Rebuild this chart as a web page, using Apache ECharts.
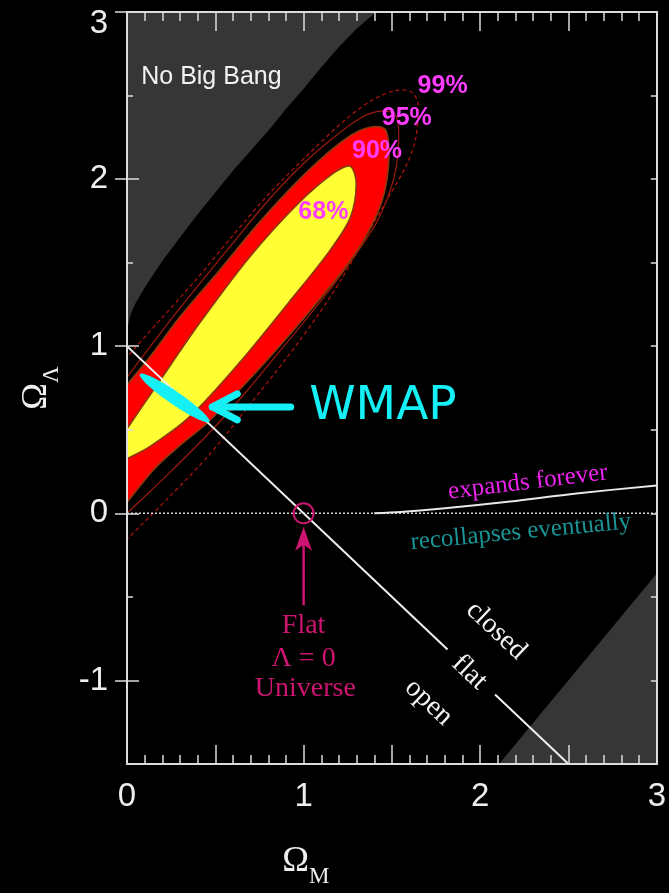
<!DOCTYPE html>
<html>
<head>
<meta charset="utf-8">
<script src="https://cdn.jsdelivr.net/npm/echarts@6/dist/echarts.min.js"></script>
<style>
  html, body { margin: 0; padding: 0; background: #000; }
  #chart { width: 669px; height: 893px; }
</style>
</head>
<body>
<div id="chart"></div>
<script>
// ---- axis ticks ----
const xTicks = [0, 1, 2, 3];
const yTicks = [-1, 0, 1, 2, 3];

// ---- regions of the (Omega_M, Omega_Lambda) plane ----
const noBigBangEdge = [[0, 1.0], [0.005, 1.12], [0.02, 1.19], [0.05, 1.26], [0.1, 1.35], [0.15, 1.43],
  [0.2, 1.51], [0.3, 1.65], [0.4, 1.79], [0.5, 1.92], [0.6, 2.05], [0.7, 2.17], [0.8, 2.29],
  [0.9, 2.42], [1.0, 2.54], [1.1, 2.67], [1.2, 2.79], [1.3, 2.9], [1.41, 3.0]];
const lowerRightShade = [[2.107, -1.5], [3.0, -0.36], [3.0, -1.5]];

// ---- supernova confidence contours ----
const contour68 = [[-0.067, 0.399], [0, 0.506], [0.185, 0.792], [0.410, 1.137], [0.691, 1.530],
  [0.972, 1.857], [1.169, 2.036], [1.264, 2.077], [1.298, 1.976], [1.264, 1.768], [1.140, 1.560],
  [0.916, 1.262], [0.635, 0.899], [0.354, 0.577], [0.129, 0.399], [0, 0.327], [-0.067, 0.298]];
const contour90 = [[-0.067, 0.679], [0, 0.768], [0.129, 0.935], [0.298, 1.173], [0.522, 1.452],
  [0.747, 1.738], [0.972, 1.994], [1.169, 2.185], [1.309, 2.286], [1.410, 2.315], [1.466, 2.292],
  [1.483, 2.125], [1.449, 1.887], [1.354, 1.661], [1.225, 1.458], [1.028, 1.202], [0.843, 0.976],
  [0.652, 0.756], [0.449, 0.536], [0.298, 0.405], [0.157, 0.268], [0, 0.065], [-0.067, -0.030]];
const contour95 = [[-0.067, 0.726], [0, 0.815], [0.146, 1.018], [0.298, 1.226], [0.449, 1.423],
  [0.596, 1.613], [0.787, 1.857], [0.972, 2.065], [1.157, 2.238], [1.309, 2.357], [1.421, 2.405],
  [1.517, 2.387], [1.539, 2.244], [1.511, 2.006], [1.421, 1.756], [1.298, 1.554], [1.157, 1.351],
  [1.0, 1.143], [0.860, 0.964], [0.674, 0.726], [0.466, 0.482], [0.242, 0.244], [0, 0],
  [-0.067, -0.071]];
const contour99 = [[-0.067, 0.857], [0, 0.935], [0.185, 1.155], [0.382, 1.387], [0.579, 1.637],
  [0.803, 1.911], [1.028, 2.149], [1.225, 2.345], [1.393, 2.476], [1.522, 2.530], [1.607, 2.524],
  [1.646, 2.458], [1.635, 2.244], [1.579, 2.077], [1.478, 1.887], [1.348, 1.649], [1.213, 1.399],
  [1.073, 1.173], [0.899, 0.923], [0.708, 0.667], [0.466, 0.351], [0.242, 0.101], [0, -0.155],
  [-0.067, -0.226]];

// ---- reference lines ----
const flatUpper = [[0, 1], [1.815, -0.815]];
const flatLower = [[2.084, -1.084], [2.5, -1.5]];
const lambdaZero = [[0, 0], [3, 0]];
const expansionEdge = [[1.4, 0.0], [1.55, 0.008], [1.8, 0.03], [2.17, 0.071], [2.545, 0.119], [3.0, 0.167]];

// ---- WMAP constraint and markers ----
const wmapEnds = [[0.073, 0.833], [0.466, 0.548]];
const wmapArrow = [[0.927, 0.637], [0.483, 0.637]];
const flatPoint = [[1, 0]];
const flatArrow = [[1, -0.55], [1, -0.08]];

// ---- annotations ----
const annotations = [
  { text: 'No Big Bang', at: [0.478, 2.612], color: '#f2f2f2', size: 25, family: 'Liberation Sans', weight: 'normal', rot: 0 },
  { text: '68%', at: [1.112, 1.804], color: '#ff3cff', size: 25, family: 'Liberation Sans', weight: 'bold', rot: 0 },
  { text: '90%', at: [1.416, 2.167], color: '#ff3cff', size: 25, family: 'Liberation Sans', weight: 'bold', rot: 0 },
  { text: '95%', at: [1.584, 2.363], color: '#ff3cff', size: 25, family: 'Liberation Sans', weight: 'bold', rot: 0 },
  { text: '99%', at: [1.787, 2.554], color: '#ff3cff', size: 25, family: 'Liberation Sans', weight: 'bold', rot: 0 },
  { text: 'WMAP', at: [1.449, 0.637], color: '#14f0f5', size: 47, family: 'DejaVu Sans', weight: 'normal', rot: 0 },
  { text: 'expands forever', at: [2.27, 0.185], color: '#ee22ee', size: 25, family: 'Liberation Serif', weight: 'normal', rot: 0.122 },
  { text: 'recollapses eventually', at: [2.23, -0.113], color: '#1a9494', size: 25, family: 'Liberation Serif', weight: 'normal', rot: 0.095 },
  { text: 'closed', at: [2.09, -0.702], color: '#f2f2f2', size: 28, family: 'Liberation Serif', weight: 'normal', rot: -0.756 },
  { text: 'flat', at: [1.938, -0.952], color: '#f2f2f2', size: 28, family: 'Liberation Serif', weight: 'normal', rot: -0.756 },
  { text: 'open', at: [1.708, -1.131], color: '#f2f2f2', size: 28, family: 'Liberation Serif', weight: 'normal', rot: -0.756 },
  { text: 'Flat', at: [1.0, -0.673], color: '#cc1470', size: 28, family: 'Liberation Serif', weight: 'normal', rot: 0 },
  { text: 'Λ = 0', at: [1.0, -0.869], color: '#cc1470', size: 28, family: 'Liberation Serif', weight: 'normal', rot: 0 },
  { text: 'Universe', at: [1.01, -1.048], color: '#cc1470', size: 28, family: 'Liberation Serif', weight: 'normal', rot: 0 }
];

const FRAME = '#dcdcdc';
const CYAN = '#14f0f5';
const CRIMSON = '#cc1470';

function once(fn) {
  return function (params, api) {
    if (params.dataIndex !== 0) return null;
    return fn(api);
  };
}

function areaSeries(pts, fill, stroke, smooth) {
  return {
    type: 'custom', coordinateSystem: 'cartesian2d', clip: true, silent: true, data: pts,
    renderItem: once(api => ({
      type: 'polygon',
      shape: { points: pts.map(p => api.coord(p)), smooth: smooth },
      style: { fill: fill, stroke: stroke, lineWidth: stroke ? 1.6 : 0 }
    }))
  };
}

function lineSeries(pts, stroke, width, dash, smooth) {
  return {
    type: 'custom', coordinateSystem: 'cartesian2d', clip: true, silent: true, data: pts,
    renderItem: once(api => ({
      type: 'polyline',
      shape: { points: pts.map(p => api.coord(p)), smooth: smooth || 0 },
      style: { stroke: stroke, lineWidth: width, lineDash: dash || null, fill: null }
    }))
  };
}

// the excluded region is bounded by its edge curve and the top-left corner of the plot
const noBigBang = [[0, 3]].concat(noBigBangEdge);

const series = [
  areaSeries(noBigBang, '#363636', null, 0),
  areaSeries(lowerRightShade, '#363636', null, 0),
  lineSeries(contour99, '#b3140c', 1.2, [4, 3], 0.3),
  lineSeries(contour95, '#9c1a0c', 1.2, null, 0.3),
  areaSeries(contour90, '#ff0000', '#8a3a10', 0.3),
  areaSeries(contour68, '#ffff33', '#8a3a10', 0.3),
  lineSeries(lambdaZero, '#d8d8d8', 1.5, [2, 2]),
  lineSeries(expansionEdge, '#e8e8e8', 2, null, 0.3),
  lineSeries(flatUpper, '#f0f0f0', 2),
  lineSeries(flatLower, '#f0f0f0', 2),
  {
    // WMAP ellipse
    type: 'custom', coordinateSystem: 'cartesian2d', clip: true, silent: true, data: wmapEnds,
    renderItem: once(api => {
      const p1 = api.coord(wmapEnds[0]), p2 = api.coord(wmapEnds[1]);
      const cx = (p1[0] + p2[0]) / 2, cy = (p1[1] + p2[1]) / 2;
      const a = Math.hypot(p2[0] - p1[0], p2[1] - p1[1]) / 2, b = 6.5;
      const ang = Math.atan2(p2[1] - p1[1], p2[0] - p1[0]);
      const pts = [];
      for (let i = 0; i < 90; i++) {
        const t = i / 90 * Math.PI * 2;
        const ex = a * Math.cos(t), ey = b * Math.sin(t);
        pts.push([cx + ex * Math.cos(ang) - ey * Math.sin(ang), cy + ex * Math.sin(ang) + ey * Math.cos(ang)]);
      }
      return { type: 'polygon', shape: { points: pts }, style: { fill: CYAN } };
    })
  },
  {
    // arrow pointing at WMAP
    type: 'custom', coordinateSystem: 'cartesian2d', silent: true, data: wmapArrow,
    renderItem: once(api => {
      const tail = api.coord(wmapArrow[0]), tip = api.coord(wmapArrow[1]);
      const st = { stroke: CYAN, lineWidth: 7, lineCap: 'round', lineJoin: 'round', fill: null };
      return {
        type: 'group', children: [
          { type: 'polyline', shape: { points: [tail, tip] }, style: st },
          { type: 'polyline', shape: { points: [[tip[0] + 25, tip[1] - 13], tip, [tip[0] + 25, tip[1] + 13]] }, style: st }
        ]
      };
    })
  },
  {
    // flat, Lambda = 0 universe marker
    type: 'custom', coordinateSystem: 'cartesian2d', silent: true, data: flatPoint,
    renderItem: once(api => {
      const c = api.coord(flatPoint[0]);
      const tail = api.coord(flatArrow[0]), tip = api.coord(flatArrow[1]);
      return {
        type: 'group', children: [
          { type: 'circle', shape: { cx: c[0], cy: c[1], r: 10 }, style: { fill: null, stroke: CRIMSON, lineWidth: 2 } },
          { type: 'line', shape: { x1: tail[0], y1: tail[1], x2: tip[0], y2: tip[1] + 15 }, style: { stroke: CRIMSON, lineWidth: 2.5 } },
          { type: 'polygon', shape: { points: [tip, [tip[0] + 8.5, tip[1] + 24], [tip[0], tip[1] + 18], [tip[0] - 8.5, tip[1] + 24]] }, style: { fill: CRIMSON } }
        ]
      };
    })
  },
  {
    type: 'custom', coordinateSystem: 'cartesian2d', silent: true, data: annotations.map(d => d.at),
    renderItem: function (params, api) {
      const d = annotations[params.dataIndex];
      const p = api.coord(d.at);
      return {
        type: 'text', x: p[0], y: p[1], rotation: d.rot,
        style: {
          text: d.text, fill: d.color, fontSize: d.size, fontFamily: d.family, fontWeight: d.weight,
          align: 'center', verticalAlign: 'middle'
        }
      };
    }
  }
];

const labelStyle = { color: '#eeeeee', fontSize: 33, fontFamily: 'Liberation Sans' };
const nameRich = {
  o: { fontFamily: 'Liberation Serif', fontSize: 36, color: '#eeeeee', verticalAlign: 'bottom', padding: [0, 0, 8, 0] },
  s: { fontFamily: 'Liberation Serif', fontSize: 23, color: '#eeeeee', verticalAlign: 'bottom' }
};

function xAxis(pos, withLabels) {
  return {
    type: 'value', position: pos, min: 0, max: 3, interval: 0.5, z: 10,
    axisLine: { show: true, onZero: false, lineStyle: { color: FRAME, width: 2 } },
    axisTick: { show: true, inside: true, length: 19, lineStyle: { color: FRAME, width: 1.5 } },
    minorTick: { show: true, splitNumber: 5, length: 9, lineStyle: { color: FRAME, width: 1.5 } },
    axisLabel: Object.assign({ show: withLabels, customValues: xTicks, margin: 16 }, labelStyle),
    splitLine: { show: false }, minorSplitLine: { show: false },
    name: withLabels ? '{o|Ω}{s|M}' : '', nameLocation: 'middle', nameGap: 80,
    nameTextStyle: { rich: nameRich, padding: [0, 172, 0, 0] }
  };
}

function yAxes(pos, withLabels) {
  return [{
    type: 'value', position: pos, min: -1.5, max: 3, interval: 0.5, z: 10,
    axisLine: { show: true, onZero: false, lineStyle: { color: FRAME, width: 2 } },
    axisTick: { show: true, inside: true, length: 6, lineStyle: { color: FRAME, width: 1.5 } },
    axisLabel: { show: false }, splitLine: { show: false },
    name: withLabels ? '{o|Ω}{s|Λ}' : '', nameLocation: 'middle', nameGap: 64, nameRotate: 90,
    nameTextStyle: { rich: nameRich }
  }, {
    type: 'value', position: pos, min: -1.5, max: 3, z: 10,
    axisLine: { show: false },
    axisTick: { show: true, inside: true, length: 12, customValues: yTicks, lineStyle: { color: FRAME, width: 1.5 } },
    axisLabel: Object.assign({
      show: withLabels, customValues: yTicks, margin: 19,
      formatter: v => v === 3 ? '{t|3}' : String(v),
      rich: { t: Object.assign({ padding: [24, 0, 0, 0] }, labelStyle) }
    }, labelStyle),
    splitLine: { show: false }
  }];
}

const chart = echarts.init(document.getElementById('chart'), null, { renderer: 'canvas' });
chart.setOption({
  backgroundColor: '#000000',
  animation: false,
  grid: { left: 127, top: 12, width: 534, height: 756, containLabel: false },
  xAxis: [xAxis('bottom', true), xAxis('top', false)],
  yAxis: yAxes('left', true).concat(yAxes('right', false)),
  series: series
});
</script>
</body>
</html>
